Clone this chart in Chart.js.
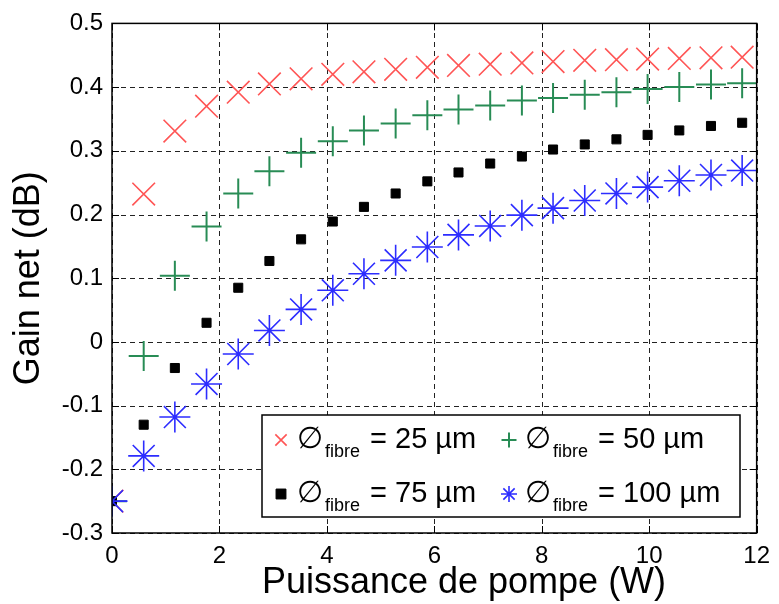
<!DOCTYPE html>
<html>
<head>
<meta charset="utf-8">
<style>
  html, body { margin: 0; padding: 0; background: #fff; }
  #chart-wrap { width: 779px; height: 604px; }
</style>
<script src="https://cdn.jsdelivr.net/npm/chart.js@4.4.1/dist/chart.umd.min.js"></script>
</head>
<body>
<div id="chart-wrap"><canvas id="gain-chart" width="779" height="604"></canvas></div>
<script>
// Pump power (W) for each measurement
const pumpPower = [0, 0.59, 1.17, 1.76, 2.35, 2.93, 3.52, 4.11, 4.69, 5.28, 5.87,
                   6.45, 7.04, 7.63, 8.21, 8.80, 9.39, 9.97, 10.56, 11.15, 11.73];

// Net gain (dB) per fibre diameter
const gain25 = [-0.25, 0.232, 0.331, 0.370, 0.392, 0.405, 0.413, 0.420, 0.424, 0.428, 0.431,
                0.434, 0.436, 0.438, 0.440, 0.442, 0.443, 0.444, 0.445, 0.446, 0.447];
const gain50 = [-0.25, -0.022, 0.104, 0.181, 0.233, 0.268, 0.297, 0.315, 0.332, 0.343, 0.356,
                0.365, 0.371, 0.379, 0.383, 0.388, 0.392, 0.397, 0.400, 0.404, 0.406];
const gain75 = [-0.25, -0.130, -0.041, 0.030, 0.085, 0.127, 0.161, 0.189, 0.212, 0.233, 0.252,
                0.266, 0.280, 0.291, 0.302, 0.310, 0.318, 0.325, 0.332, 0.339, 0.344];
const gain100 = [-0.25, -0.179, -0.118, -0.066, -0.019, 0.018, 0.051, 0.081, 0.107, 0.128, 0.149,
                 0.168, 0.182, 0.199, 0.210, 0.222, 0.233, 0.243, 0.253, 0.262, 0.269];

const fibreDiameters = [25, 50, 75, 100];   // µm
const xTicks = [0, 2, 4, 6, 8, 10, 12];
const yTicks = [-0.3, -0.2, -0.1, 0, 0.1, 0.2, 0.3, 0.4, 0.5];
const xTitle = 'Puissance de pompe (W)';

const FONT = '"Liberation Sans", Arial, Helvetica, sans-serif';

const toPoints = ys => ys.map((y, i) => ({ x: pumpPower[i], y: y }));

// dotted grid under the markers
const gridPlugin = {
  id: 'dottedGrid',
  beforeDatasetsDraw(chart) {
    const ctx = chart.ctx;
    const area = chart.chartArea;
    const xs = chart.scales.x, ys = chart.scales.y;
    ctx.save();
    ctx.strokeStyle = '#222';
    ctx.lineWidth = 1;
    ctx.setLineDash([5, 4]);
    xTicks.forEach(v => {
      const px = Math.round(xs.getPixelForValue(v)) + 0.5;
      ctx.beginPath();
      ctx.moveTo(px, area.bottom); ctx.lineTo(px, area.top);
      ctx.stroke();
    });
    yTicks.forEach(v => {
      const py = Math.round(ys.getPixelForValue(v)) + 0.5;
      ctx.beginPath();
      ctx.moveTo(area.left, py); ctx.lineTo(area.right, py);
      ctx.stroke();
    });
    ctx.restore();
  }
};

// Matlab-like frame: inward ticks on all sides, solid box, legend inside the axes
const framePlugin = {
  id: 'matlabFrame',
  afterDraw(chart) {
    const ctx = chart.ctx;
    const area = chart.chartArea;
    const xs = chart.scales.x, ys = chart.scales.y;
    const tl = 7;

    ctx.save();
    ctx.strokeStyle = '#000';
    ctx.lineWidth = 1;
    ctx.beginPath();
    xTicks.forEach(v => {
      const px = Math.round(xs.getPixelForValue(v)) + 0.5;
      ctx.moveTo(px, area.bottom); ctx.lineTo(px, area.bottom - tl);
      ctx.moveTo(px, area.top); ctx.lineTo(px, area.top + tl);
    });
    yTicks.forEach(v => {
      const py = Math.round(ys.getPixelForValue(v)) + 0.5;
      ctx.moveTo(area.left, py); ctx.lineTo(area.left + tl, py);
      ctx.moveTo(area.right, py); ctx.lineTo(area.right - tl, py);
    });
    ctx.stroke();
    ctx.lineWidth = 1.5;
    ctx.strokeRect(area.left, area.top, area.right - area.left, area.bottom - area.top);

    // x axis title (sits a little right of the axis centre in the original)
    ctx.fillStyle = '#000';
    ctx.font = '36px ' + FONT;
    ctx.textAlign = 'center';
    ctx.textBaseline = 'alphabetic';
    ctx.fillText(xTitle, 464, 593);

    // legend
    const box = { left: 262, top: 415, right: 740, bottom: 517 };
    ctx.fillStyle = '#fff';
    ctx.fillRect(box.left, box.top, box.right - box.left, box.bottom - box.top);
    ctx.lineWidth = 1.5;
    ctx.strokeStyle = '#000';
    ctx.strokeRect(box.left, box.top, box.right - box.left, box.bottom - box.top);

    const colX = [281, 509];
    const rowBase = [448, 502];
    const legendRadius = [8, 7.5, 7, 8];
    chart.data.datasets.forEach((ds, i) => {
      const mx = colX[i % 2];
      const base = rowBase[Math.floor(i / 2)];
      ctx.strokeStyle = ds.borderColor;
      ctx.fillStyle = ds.backgroundColor;
      ctx.lineWidth = ds.borderWidth;
      Chart.helpers.drawPoint(ctx, { pointStyle: ds.pointStyle, radius: legendRadius[i], borderWidth: ds.borderWidth, rotation: 0 }, mx, base - 8);

      ctx.fillStyle = '#000';
      ctx.textAlign = 'left';
      ctx.textBaseline = 'alphabetic';
      let x = mx + 16;
      ctx.font = '30px ' + FONT;
      ctx.fillText('\u2205', x, base);
      x += ctx.measureText('\u2205').width + 2;
      ctx.font = '18px ' + FONT;
      ctx.fillText('fibre', x, base + 9);
      x += ctx.measureText('fibre').width + 10;
      ctx.font = '29px ' + FONT;
      ctx.fillText('= ' + fibreDiameters[i] + ' \u00b5m', x, base);
    });
    ctx.restore();
  }
};

const ctx = document.getElementById('gain-chart').getContext('2d');
const chart = new Chart(ctx, {
  type: 'scatter',
  data: {
    datasets: [
      {
        label: '\u2205fibre = 25 \u00b5m',
        data: toPoints(gain25),
        pointStyle: 'crossRot',
        pointRadius: 16,
        borderColor: 'rgb(255, 85, 85)',
        backgroundColor: 'rgb(255, 85, 85)',
        borderWidth: 1.6,
        order: 3
      },
      {
        label: '\u2205fibre = 50 \u00b5m',
        data: toPoints(gain50),
        pointStyle: 'cross',
        pointRadius: 15,
        borderColor: 'rgb(40, 140, 85)',
        backgroundColor: 'rgb(40, 140, 85)',
        borderWidth: 2,
        order: 2
      },
      {
        label: '\u2205fibre = 75 \u00b5m',
        data: toPoints(gain75),
        pointStyle: 'rect',
        pointRadius: 6.4,
        borderColor: '#000',
        backgroundColor: '#000',
        borderWidth: 1,
        order: 1
      },
      {
        label: '\u2205fibre = 100 \u00b5m',
        data: toPoints(gain100),
        pointStyle: 'star',
        pointRadius: 15.5,
        borderColor: 'rgb(45, 45, 255)',
        backgroundColor: 'rgb(45, 45, 255)',
        borderWidth: 1.6,
        order: 0
      }
    ]
  },
  options: {
    responsive: false,
    animation: false,
    layout: { padding: { top: 21, right: 17, left: 0, bottom: 0 } },
    plugins: {
      legend: { display: false },
      tooltip: { enabled: false }
    },
    elements: { point: { hoverRadius: 0 } },
    scales: {
      x: {
        type: 'linear',
        min: 0,
        max: 12,
        afterFit: scale => { scale.height = 71; },
        afterBuildTicks: scale => { scale.ticks = xTicks.map(v => ({ value: v })); },
        ticks: {
          color: '#000',
          font: { family: FONT, size: 24 },
          padding: 9,
          maxRotation: 0,
          autoSkip: false,
          callback: v => String(v)
        },
        grid: { display: false, drawTicks: false },
        border: { display: false }
      },
      y: {
        type: 'linear',
        min: -0.3,
        max: 0.5,
        afterFit: scale => { scale.width = 112; },
        afterBuildTicks: scale => { scale.ticks = yTicks.map(v => ({ value: v })); },
        ticks: {
          color: '#000',
          font: { family: FONT, size: 24 },
          padding: 9,
          callback: v => {
            const s = Number(v.toFixed(1));
            return s === 0 ? '0' : String(s);
          }
        },
        grid: { display: false, drawTicks: false },
        border: { display: false },
        title: {
          display: true,
          text: 'Gain net (dB)',
          color: '#000',
          font: { family: FONT, size: 36 },
          padding: { top: 7, bottom: 0 }
        }
      }
    }
  },
  plugins: [gridPlugin, framePlugin]
});
</script>
</body>
</html>
